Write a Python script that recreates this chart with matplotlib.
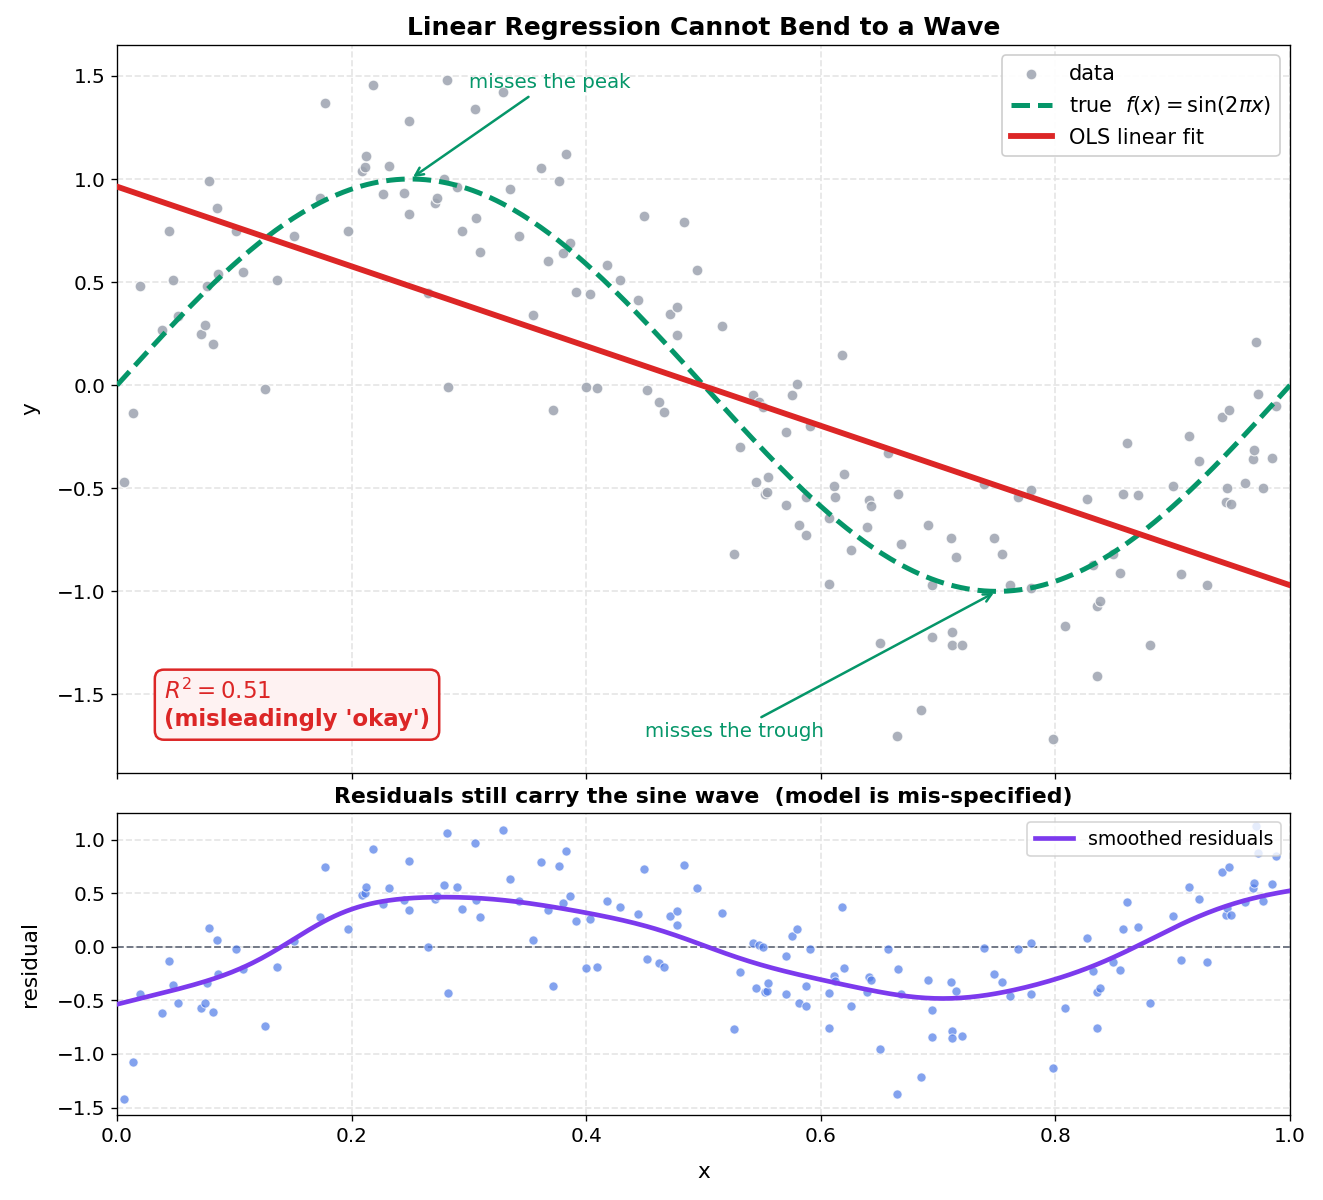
import numpy as np
import matplotlib
matplotlib.use("Agg")
import matplotlib.pyplot as plt

x = np.array([
    0.006, 0.014, 0.020, 0.038, 0.044, 0.048, 0.052, 0.072, 0.075, 0.077,
    0.078, 0.082, 0.085, 0.086, 0.101, 0.107, 0.126, 0.136, 0.151, 0.173,
    0.177, 0.197, 0.209, 0.211, 0.212, 0.218, 0.227, 0.232, 0.245, 0.249,
    0.249, 0.265, 0.271, 0.273, 0.279, 0.281, 0.282, 0.290, 0.294, 0.305,
    0.306, 0.309, 0.329, 0.335, 0.343, 0.355, 0.361, 0.367, 0.372, 0.377,
    0.380, 0.383, 0.386, 0.391, 0.400, 0.403, 0.409, 0.418, 0.429, 0.444,
    0.449, 0.452, 0.462, 0.466, 0.471, 0.477, 0.477, 0.483, 0.494, 0.516,
    0.526, 0.531, 0.542, 0.545, 0.547, 0.551, 0.552, 0.554, 0.555, 0.570,
    0.570, 0.575, 0.580, 0.581, 0.587, 0.587, 0.591, 0.607, 0.607, 0.611,
    0.612, 0.618, 0.620, 0.626, 0.639, 0.641, 0.643, 0.650, 0.657, 0.665,
    0.666, 0.668, 0.685, 0.691, 0.695, 0.695, 0.711, 0.712, 0.712, 0.715,
    0.720, 0.739, 0.748, 0.754, 0.761, 0.768, 0.779, 0.779, 0.798, 0.808,
    0.827, 0.832, 0.835, 0.835, 0.838, 0.849, 0.855, 0.858, 0.861, 0.870,
    0.881, 0.900, 0.907, 0.914, 0.922, 0.929, 0.942, 0.945, 0.946, 0.948,
    0.950, 0.962, 0.968, 0.969, 0.971, 0.973, 0.977, 0.985, 0.988,
])
y = np.array([
    -0.47, -0.135, 0.48, 0.27, 0.75, 0.51, 0.335, 0.25, 0.29, 0.48,
    0.99, 0.20, 0.86, 0.54, 0.75, 0.55, -0.02, 0.51, 0.725, 0.91,
    1.37, 0.75, 1.04, 1.06, 1.11, 1.455, 0.925, 1.065, 0.93, 1.28,
    0.83, 0.445, 0.885, 0.91, 1.00, 1.48, -0.01, 0.96, 0.75, 1.34,
    0.81, 0.645, 1.42, 0.95, 0.725, 0.34, 1.055, 0.60, -0.12, 0.99,
    0.64, 1.12, 0.69, 0.45, -0.01, 0.44, -0.015, 0.585, 0.51, 0.415,
    0.82, -0.025, -0.08, -0.13, 0.345, 0.38, 0.245, 0.79, 0.56, 0.285,
    -0.82, -0.30, -0.05, -0.47, -0.08, -0.105, -0.53, -0.52, -0.445, -0.225,
    -0.58, -0.05, 0.005, -0.68, -0.54, -0.725, -0.20, -0.965, -0.645, -0.49,
    -0.54, 0.145, -0.43, -0.80, -0.69, -0.555, -0.585, -1.25, -0.33, -1.70,
    -0.53, -0.77, -1.575, -0.68, -0.97, -1.22, -0.74, -1.195, -1.26, -0.835,
    -1.26, -0.48, -0.74, -0.82, -0.97, -0.54, -0.51, -0.985, -1.715, -1.17,
    -0.55, -0.87, -1.41, -1.07, -1.045, -0.82, -0.91, -0.53, -0.28, -0.535,
    -1.26, -0.49, -0.915, -0.245, -0.37, -0.97, -0.155, -0.565, -0.50, -0.12,
    -0.575, -0.475, -0.36, -0.315, 0.21, -0.045, -0.50, -0.355, -0.10,
])

# OLS fit and residuals
slope, intercept = np.polyfit(x, y, 1)
y_hat = intercept + slope * x
resid = y - y_hat
r2 = 1 - np.sum(resid ** 2) / np.sum((y - y.mean()) ** 2)

xx = np.linspace(0, 1, 400)

# gaussian kernel smoother for the residuals
bw = 0.06
w = np.exp(-0.5 * ((xx[:, None] - x[None, :]) / bw) ** 2)
smooth = (w * resid[None, :]).sum(axis=1) / w.sum(axis=1)

plt.rcParams['font.size'] = 10.5

fig = plt.figure(figsize=(11.033, 10), dpi=120)
ax = fig.add_axes([0.0884, 0.356, 0.886, 0.6065])
ax2 = fig.add_axes([0.0884, 0.0708, 0.886, 0.2517], sharex=ax)

GREEN = '#059669'
RED = '#dc2626'

ax.scatter(x, y, s=42, color='#9ca3af', alpha=0.85, edgecolor='white',
           linewidth=0.7, label='data', zorder=2)
ax.plot(xx, np.sin(2 * np.pi * xx), color=GREEN, lw=3, ls='--',
        label=r'true  $f(x) = \sin(2\pi x)$', zorder=3)
ax.plot(xx, intercept + slope * xx, color=RED, lw=3.5,
        label='OLS linear fit', zorder=4)

ax.annotate('misses the peak', xy=(0.25, 1.0), xytext=(0.30, 1.47),
            color=GREEN, fontsize=11.9, va='center',
            arrowprops=dict(arrowstyle='->', color=GREEN, lw=1.5))
ax.annotate('misses the trough', xy=(0.75, -1.0), xytext=(0.45, -1.68),
            color=GREEN, fontsize=11.9, va='center',
            arrowprops=dict(arrowstyle='->', color=GREEN, lw=1.5))

ax.text(0.04, 0.058, f"$R^2 = {r2:.2f}$\n(misleadingly 'okay')",
        transform=ax.transAxes, color=RED, fontsize=13.7, fontweight='bold',
        va='bottom', ha='left',
        bbox=dict(boxstyle='round,pad=0.4', facecolor='#fef2f2',
                  edgecolor=RED, lw=1.5))

ax.set_xlim(0, 1)
ax.set_ylim(-1.88, 1.65)
ax.set_ylabel('y', fontsize=13, labelpad=10)
ax.set_title('Linear Regression Cannot Bend to a Wave', fontsize=15,
             fontweight='bold')
ax.grid(True, ls='--', color='#e5e5e5', lw=1)
ax.set_axisbelow(True)
ax.tick_params(labelbottom=False, labelsize=12)
ax.legend(loc='upper right', fontsize=12.5, framealpha=0.95)

ax2.scatter(x, resid, s=30, color='#4f7be8', alpha=0.7, edgecolor='white',
            linewidth=0.6, zorder=2)
ax2.axhline(0, color='#6b7280', ls='--', lw=1.1, zorder=1)
ax2.plot(xx, smooth, color='#7c3aed', lw=2.8, label='smoothed residuals',
         zorder=3)
ax2.set_ylim(-1.57, 1.25)
ax2.set_xlabel('x', fontsize=13, labelpad=10)
ax2.set_ylabel('residual', fontsize=13, labelpad=10)
ax2.set_title('Residuals still carry the sine wave  (model is mis-specified)',
              fontsize=13.2, fontweight='bold')
ax2.grid(True, ls='--', color='#e5e5e5', lw=1)
ax2.set_axisbelow(True)
ax2.tick_params(labelsize=12)
ax2.legend(loc='upper right', fontsize=11.3)

fig.savefig('out.png', dpi=120)
